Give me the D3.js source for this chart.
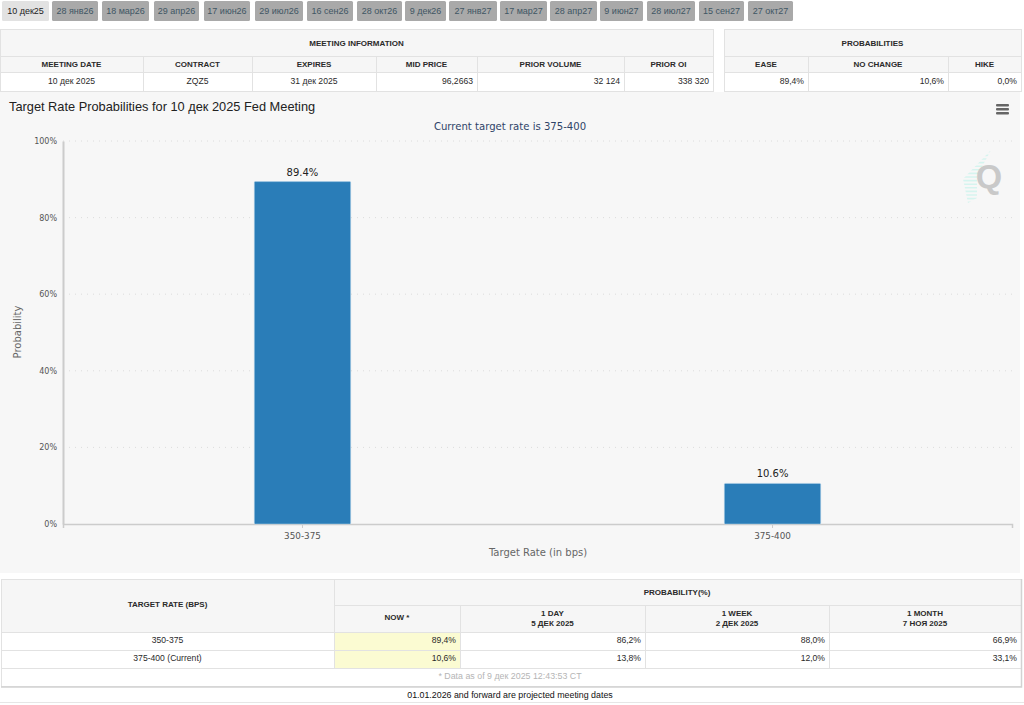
<!DOCTYPE html>
<html>
<head>
<meta charset="utf-8">
<script src="https://cdn.jsdelivr.net/npm/d3@7"></script>
<style>
  html, body { margin: 0; padding: 0; background: #fff; overflow: hidden; }
  svg { display: block; }
  text { font-family: "Liberation Sans", Arial, sans-serif; }
  .chart-text { font-family: "DejaVu Sans", sans-serif; }
</style>
</head>
<body>
<script>
// data
var meetings = ["10 дек25","28 янв26","18 мар26","29 апр26","17 июн26","29 июл26","16 сен26","28 окт26","9 дек26","27 янв27","17 мар27","28 апр27","9 июн27","28 июл27","15 сен27","27 окт27"];
var infoHeaders = ["MEETING DATE","CONTRACT","EXPIRES","MID PRICE","PRIOR VOLUME","PRIOR OI"];
var infoValues = ["10 дек 2025","ZQZ5","31 дек 2025","96,2663","32 124","338 320"];
var probHeaders = ["EASE","NO CHANGE","HIKE"];
var probValues = ["89,4%","10,6%","0,0%"];

var rates = ["350-375","375-400"];
var nowValues = [89.4,10.6];
var yTicks = [0,20,40,60,80,100];

var histHeaders = [["NOW *"],["1 DAY","5 ДЕК 2025"],["1 WEEK","2 ДЕК 2025"],["1 MONTH","7 НОЯ 2025"]];
var histRows = ["350-375","375-400 (Current)"];
var histNow = ["89,4%","10,6%"];
var histDay = ["86,2%","13,8%"];
var histWeek = ["88,0%","12,0%"];
var histMonth = ["66,9%","33,1%"];

var svg = d3.select("body").append("svg")
  .attr("width",1024)
  .attr("height",705);

var lineColor = "#e2e2e2", headBg = "#f6f6f6", textColor = "#2a2a2a";

function label(x,y,str,opts){
  opts = opts || {};
  return svg.append("text")
    .attr("x",x).attr("y",y)
    .attr("text-anchor",opts.anchor || "middle")
    .attr("font-size",opts.size || 8.6)
    .attr("font-weight",opts.bold ? "bold" : "normal")
    .attr("fill",opts.color || textColor)
    .text(str);
}

function cell(x0,x1,y0,y1,fill){
  svg.append("rect")
    .attr("x",x0+0.5).attr("y",y0+0.5)
    .attr("width",x1-x0).attr("height",y1-y0)
    .attr("fill",fill)
    .attr("stroke",lineColor);
}

// tabs
var tabEdges = [[2,49],[52,98],[102,149],[154,199],[204,250],[255,303],[307,353],[357,402],[405,446],[449,497],[500,547],[550,597],[600,643],[647,695],[699,744],[748,793]];
svg.selectAll(".tab")
    .data(meetings)
  .enter().append("rect")
    .attr("class","tab")
    .attr("x",function(d,i){ return tabEdges[i][0]; })
    .attr("y",1)
    .attr("width",function(d,i){ return tabEdges[i][1]-tabEdges[i][0]; })
    .attr("height",20)
    .attr("rx",1.5)
    .attr("fill",function(d,i){ return i==0 ? "#e2e2e2" : "#a9a9a9"; });
svg.selectAll(".tab-label")
    .data(meetings)
  .enter().append("text")
    .attr("class","tab-label")
    .attr("x",function(d,i){ return (tabEdges[i][0]+tabEdges[i][1])/2; })
    .attr("y",13.5)
    .attr("text-anchor","middle")
    .attr("font-size",9)
    .attr("fill",function(d,i){ return i==0 ? "#222" : "#3f5664"; })
    .text(function(d){ return d; });

// meeting information + probabilities tables
function infoTable(edges,title,headers,values,aligns){
  var left = edges[0], right = edges[edges.length-1];
  cell(left,right,29,56,headBg);
  label((left+right)/2,45.5,title,{bold:true,size:8});
  headers.forEach(function(h,i){
    cell(edges[i],edges[i+1],56,72,headBg);
    cell(edges[i],edges[i+1],72,91,"#fff");
    label((edges[i]+edges[i+1])/2,66.5,h,{bold:true,size:8});
    if(aligns[i]=="end") label(edges[i+1]-4,84,values[i],{anchor:"end"});
    else label((edges[i]+edges[i+1])/2,84,values[i]);
  });
}
infoTable([0,143,252,376,477,624,713],"MEETING INFORMATION",infoHeaders,infoValues,["middle","middle","middle","end","end","end"]);
infoTable([724,808,948,1021],"PROBABILITIES",probHeaders,probValues,["end","end","end"]);

// chart panel
svg.append("rect")
  .attr("x",0).attr("y",92)
  .attr("width",1020).attr("height",481)
  .attr("fill","#f7f7f7");

label(9,111,"Target Rate Probabilities for 10 дек 2025 Fed Meeting",{anchor:"start",size:12.8,color:"#222"});
label(510,130,"Current target rate is 375-400",{size:10.1,color:"#2f4468"}).attr("class","chart-text");

var x = d3.scaleBand()
  .domain(rates)
  .range([63,1012])
  .paddingInner(0.795)
  .paddingOuter(0.407);

var y = d3.scaleLinear()
  .domain([0,100])
  .range([524,141]);

// gridlines
svg.selectAll(".grid")
    .data(yTicks.slice(1))
  .enter().append("line")
    .attr("class","grid")
    .attr("x1",63).attr("x2",1012)
    .attr("y1",function(d){ return y(d); })
    .attr("y2",function(d){ return y(d); })
    .attr("stroke","#dcdcdc")
    .attr("stroke-dasharray","1,5");

var yAxis = svg.append("g")
  .attr("transform","translate(63,0)")
  .call(d3.axisLeft(y).tickValues(yTicks).tickSize(0).tickPadding(6).tickFormat(function(d){ return d+"%"; }));
yAxis.select(".domain").attr("stroke","#ccc").attr("stroke-width",2);
yAxis.selectAll("text").attr("class","chart-text").attr("font-size",8).attr("fill","#555");

var xAxis = svg.append("g")
  .attr("transform","translate(0,524)")
  .call(d3.axisBottom(x).tickSize(4).tickPadding(5));
xAxis.select(".domain").attr("stroke","#ccc").attr("stroke-width",1.5);
xAxis.selectAll("line").attr("stroke","#ccc");
xAxis.selectAll("text").attr("class","chart-text").attr("font-size",8.8).attr("fill","#555");

svg.selectAll(".bar")
    .data(nowValues)
  .enter().append("rect")
    .attr("class","bar")
    .attr("x",function(d,i){ return x(rates[i]); })
    .attr("y",function(d){ return y(d); })
    .attr("width",x.bandwidth())
    .attr("height",function(d){ return y(0)-y(d); })
    .attr("rx",1)
    .attr("fill","#2a7db8")
    .attr("stroke","#b5d5ea")
    .attr("stroke-width",0.5);

svg.selectAll(".bar-label")
    .data(nowValues)
  .enter().append("text")
    .attr("class","bar-label chart-text")
    .attr("x",function(d,i){ return x(rates[i])+x.bandwidth()/2; })
    .attr("y",function(d){ return y(d)-6; })
    .attr("text-anchor","middle")
    .attr("font-size",10)
    .attr("fill","#222")
    .text(function(d){ return d.toFixed(1)+"%"; });

label(538,556,"Target Rate (in bps)",{size:10,color:"#666"}).attr("class","chart-text");
label(0,0,"Probability",{size:10,color:"#666"})
  .attr("class","chart-text")
  .attr("transform","translate(21,332) rotate(-90)");

// hamburger menu
[104,108,112].forEach(function(v){
  svg.append("rect")
    .attr("x",996).attr("y",v)
    .attr("width",13).attr("height",2.4)
    .attr("rx",1)
    .attr("fill","#666");
});

// watermark, cyan hatch behind the Q
svg.append("path")
  .attr("fill","#d6f4ef")
  .attr("d","M991,150L977,176V198L968,203L963,179Z");
d3.range(150,204,3.6).forEach(function(v){
  svg.append("line")
    .attr("x1",955).attr("x2",1000)
    .attr("y1",v).attr("y2",v)
    .attr("stroke","#f7f7f7")
    .attr("stroke-width",2);
});
label(989,188,"Q",{size:34,bold:true,color:"#c9c9c9"});

// bottom table
var histEdges = [334,460,645,829,1021];
cell(1,334,579,632,headBg);
label(167.5,607,"TARGET RATE (BPS)",{bold:true,size:8});
cell(334,1021,579,605,headBg);
label(677,594.5,"PROBABILITY(%)",{bold:true,size:8});
histHeaders.forEach(function(h,i){
  cell(histEdges[i],histEdges[i+1],605,632,headBg);
  var cx = (histEdges[i]+histEdges[i+1])/2;
  if(h.length==1) label(cx,620,h[0],{bold:true,size:8});
  else {
    label(cx,615.5,h[0],{bold:true,size:8});
    label(cx,626,h[1],{bold:true,size:8});
  }
});
var rowEdges = [632,650,668];
var histCols = [histNow,histDay,histWeek,histMonth];
histRows.forEach(function(r,j){
  cell(1,334,rowEdges[j],rowEdges[j+1],"#fff");
  label(167.5,rowEdges[j]+11,r);
  histCols.forEach(function(col,i){
    cell(histEdges[i],histEdges[i+1],rowEdges[j],rowEdges[j+1],i==0 ? "#fbfbd2" : "#fff");
    label(histEdges[i+1]-4,rowEdges[j]+11,col[j],{anchor:"end"});
  });
});
cell(1,1021,668,686,"#fff");
label(510,679,"* Data as of 9 дек 2025 12:43:53 CT",{color:"#b5b5b5",size:8.85});
svg.append("path")
  .attr("d","M1,687H1021.5V579")
  .attr("fill","none")
  .attr("stroke","#d2d2d2")
  .attr("stroke-width",1.5);

label(510,698,"01.01.2026 and forward are projected meeting dates",{color:"#111",size:8.85});
svg.append("line")
  .attr("x1",0).attr("x2",1024)
  .attr("y1",702.5).attr("y2",702.5)
  .attr("stroke","#e6e6e6");
</script>
</body>
</html>
